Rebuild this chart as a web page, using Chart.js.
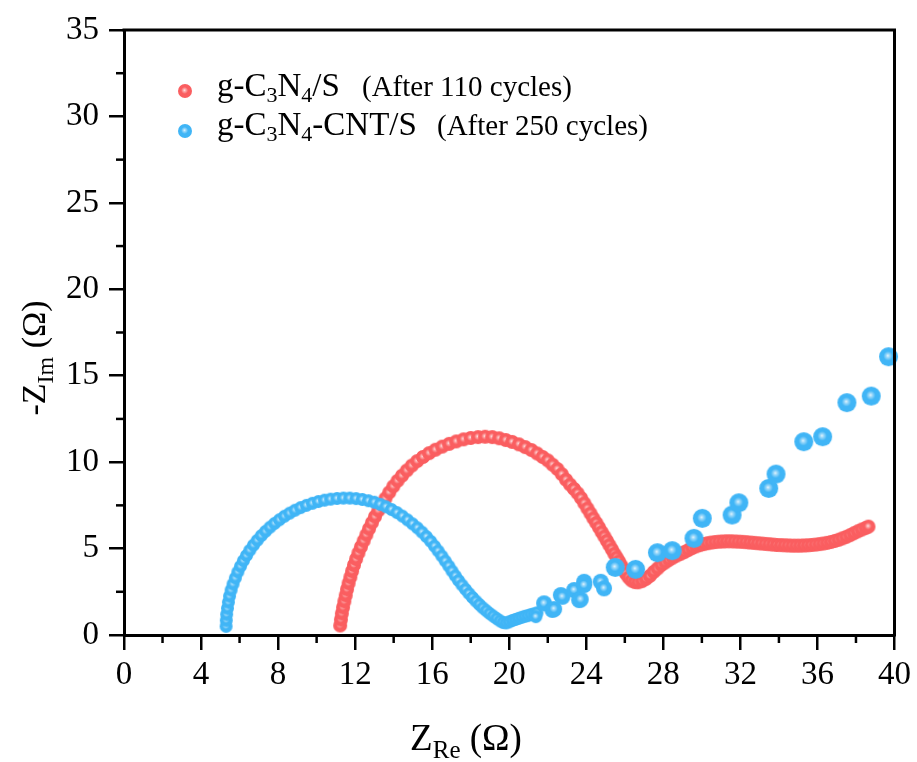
<!DOCTYPE html>
<html><head><meta charset="utf-8">
<script src="https://cdn.jsdelivr.net/npm/chart.js@4.4.1/dist/chart.umd.min.js"></script>
<style>html,body{margin:0;padding:0;background:#fff}#wrap{width:917px;height:762px}</style>
</head><body><div id="wrap"><canvas id="c" width="917" height="762"></canvas></div>
<script>
// ---- data ----
const redX = [11.22,11.26,11.31,11.37,11.44,11.51,11.58,11.66,11.75,11.84,11.94,12.05,12.17,12.3,12.44,12.58,12.72,12.87,13.03,13.2,13.38,13.57,13.77,13.98,14.2,14.43,14.68,14.94,15.22,15.52,15.84,16.17,16.52,16.88,17.25,17.63,18.0,18.38,18.75,19.12,19.48,19.82,20.15,20.5,20.83,21.15,21.45,21.73,22.0,22.25,22.5,22.73,22.95,23.16,23.36,23.55,23.73,23.9,24.06,24.22,24.37,24.52,24.66,24.8,24.94,25.07,25.2,25.33,25.46,25.58,25.7,25.82,25.94,26.06,26.2,26.35,26.52,26.7,26.9,27.1,27.3,27.5,27.7,27.9,28.1,28.3,28.5,28.7,28.9,29.1,29.3,29.5,29.7,29.9,30.1,30.3,30.5,30.7,30.9,31.1,31.3,31.5,31.7,31.9,32.1,32.3,32.5,32.7,32.9,33.1,33.3,33.5,33.7,33.9,34.1,34.3,34.5,34.7,34.9,35.1,35.3,35.5,35.7,35.9,36.1,36.3,36.5,36.7,36.9,37.1,37.3,37.5,37.7,37.9,38.1,38.3,38.5,38.65];
const redY = [0.55,0.9,1.25,1.6,1.95,2.3,2.65,3.0,3.35,3.7,4.05,4.4,4.75,5.1,5.45,5.8,6.15,6.5,6.85,7.2,7.55,7.9,8.25,8.6,8.92,9.22,9.52,9.8,10.06,10.3,10.52,10.72,10.9,11.06,11.2,11.32,11.4,11.45,11.47,11.45,11.38,11.28,11.17,11.03,10.87,10.7,10.5,10.3,10.1,9.85,9.6,9.3,8.98,8.7,8.45,8.2,7.92,7.62,7.32,7.03,6.75,6.48,6.22,5.95,5.7,5.45,5.2,4.95,4.7,4.48,4.26,4.02,3.78,3.55,3.33,3.15,3.06,3.05,3.12,3.25,3.42,3.65,3.85,4.05,4.2,4.35,4.48,4.6,4.7,4.8,4.92,5.03,5.13,5.2,5.26,5.31,5.35,5.38,5.4,5.41,5.42,5.42,5.41,5.4,5.39,5.37,5.35,5.33,5.31,5.29,5.27,5.25,5.23,5.21,5.2,5.19,5.18,5.17,5.17,5.17,5.18,5.19,5.21,5.23,5.26,5.29,5.33,5.38,5.44,5.51,5.59,5.68,5.78,5.89,6.0,6.1,6.19,6.27];
const blueX = [5.3,5.31,5.33,5.37,5.42,5.48,5.56,5.66,5.78,5.91,6.05,6.2,6.36,6.53,6.72,6.92,7.13,7.35,7.58,7.82,8.07,8.33,8.6,8.88,9.17,9.47,9.78,10.09,10.41,10.73,11.06,11.39,11.72,12.05,12.37,12.69,13.0,13.3,13.6,13.89,14.17,14.45,14.72,14.98,15.23,15.47,15.7,15.92,16.12,16.31,16.5,16.68,16.86,17.03,17.2,17.37,17.55,17.73,17.91,18.09,18.27,18.45,18.63,18.81,18.99,19.17,19.35,19.52,19.68,19.84,20.0,20.16,20.32,20.48,20.64,20.8,20.96,21.12,21.28,21.44,21.38,21.81,22.24,22.33,22.68,22.76,23.37,23.63,23.71,23.89,23.89,24.75,24.92,25.5,26.56,27.69,28.46,29.59,30.02,31.57,31.92,33.47,33.85,35.29,36.27,37.53,38.79,39.69];
const blueY = [0.5,0.85,1.2,1.55,1.9,2.25,2.6,2.95,3.3,3.65,3.98,4.3,4.6,4.9,5.2,5.48,5.75,6.0,6.24,6.46,6.67,6.87,7.05,7.22,7.37,7.5,7.62,7.72,7.8,7.86,7.9,7.92,7.92,7.89,7.84,7.77,7.68,7.56,7.42,7.26,7.08,6.88,6.66,6.43,6.2,5.95,5.69,5.42,5.14,4.86,4.57,4.28,3.99,3.7,3.42,3.15,2.89,2.64,2.4,2.17,1.96,1.76,1.57,1.4,1.24,1.09,0.95,0.82,0.72,0.7,0.76,0.84,0.9,0.96,1.02,1.08,1.12,1.18,1.22,1.28,1.06,1.83,1.45,1.5,2.31,2.21,2.6,2.02,2.06,3.08,2.89,3.08,2.7,3.91,3.8,4.76,4.88,5.59,6.75,6.94,7.65,8.48,9.31,11.18,11.47,13.44,13.82,16.1];
const xTicks = [0,4,8,12,16,20,24,28,32,36,40];
const yTicks = [0,5,10,15,20,25,30,35];
const seriesLabels = ['g-C₃N₄/S', 'g-C₃N₄-CNT/S'];
const seriesNotes = ['(After 110 cycles)', '(After 250 cycles)'];
const xTitleParts = [['Z',''],['Re','sub'],[' (Ω)','']];
const yTitleParts = [['-Z',''],['Im','sub'],[' (Ω)','']];

// ---- styling ----
const FONT = "'Liberation Serif','Times New Roman',serif";
const RED = [250,94,96], BLUE = [64,181,246];
const sphereCache = {};
function sphere(rgb, r) {
  const key = rgb.join(',') + '|' + r;
  if (sphereCache[key]) return sphereCache[key];
  const s = Math.ceil(r * 2 + 2);
  const c = document.createElement('canvas'); c.width = s; c.height = s;
  const g = c.getContext('2d'); const cx = s / 2, cy = s / 2;
  g.beginPath(); g.arc(cx, cy, r, 0, Math.PI * 2);
  g.fillStyle = `rgb(${rgb.join(',')})`; g.fill();
  const gr = g.createRadialGradient(cx - r * 0.08, cy - r * 0.12, 0, cx - r * 0.05, cy - r * 0.08, r * 0.5);
  gr.addColorStop(0, 'rgba(255,255,255,0.88)');
  gr.addColorStop(0.35, 'rgba(255,255,255,0.5)');
  gr.addColorStop(1, 'rgba(255,255,255,0)');
  g.fillStyle = gr; g.beginPath(); g.arc(cx, cy, r, 0, Math.PI * 2); g.fill();
  sphereCache[key] = c; return c;
}
const redR = () => 7;
const blueR = (ctx) => { const x = ctx.raw ? ctx.raw.x : 0; return x < 21.5 ? 6.5 : (x < 25 ? 8 : 9.5); };

const SUBMAP = {'₀':'0','₁':'1','₂':'2','₃':'3','₄':'4','₅':'5','₆':'6','₇':'7','₈':'8','₉':'9'};
function splitSubs(str) {
  const parts = []; let cur = '', curSub = false;
  for (const ch of str) {
    const isSub = ch in SUBMAP; const t = isSub ? SUBMAP[ch] : ch;
    if (isSub !== curSub && cur) { parts.push([cur, curSub ? 'sub' : '']); cur = ''; }
    curSub = isSub; cur += t;
  }
  if (cur) parts.push([cur, curSub ? 'sub' : '']);
  return parts;
}
function richWidth(ctx, parts, mainF, subF) {
  let w = 0;
  for (const [t, k] of parts) { ctx.font = (k === 'sub' ? subF : mainF) + 'px ' + FONT; w += ctx.measureText(t).width; }
  return w;
}
function drawRich(ctx, parts, x, y, mainF, subF, subDy) {
  ctx.textBaseline = 'alphabetic'; ctx.textAlign = 'left'; ctx.fillStyle = '#000';
  for (const [t, k] of parts) {
    ctx.font = (k === 'sub' ? subF : mainF) + 'px ' + FONT;
    ctx.fillText(t, x, y + (k === 'sub' ? subDy : 0));
    x += ctx.measureText(t).width;
  }
  return x;
}

const decor = {
  id: 'decor',
  afterDraw(chart) {
    const ctx = chart.ctx, a = chart.chartArea, xs = chart.scales.x, ys = chart.scales.y;
    ctx.save();
    ctx.strokeStyle = '#000';
    ctx.lineWidth = 3;
    ctx.beginPath(); ctx.moveTo(a.left - 1.5, a.top); ctx.lineTo(a.right, a.top); ctx.lineTo(a.right, a.bottom + 1.5); ctx.stroke();
    ctx.lineWidth = 2.5;
    for (let i = 0; i < xTicks.length - 1; i++) {
      const px = xs.getPixelForValue((xTicks[i] + xTicks[i + 1]) / 2);
      ctx.beginPath(); ctx.moveTo(px, a.bottom); ctx.lineTo(px, a.bottom + 8); ctx.stroke();
    }
    for (let i = 0; i < yTicks.length - 1; i++) {
      const py = ys.getPixelForValue((yTicks[i] + yTicks[i + 1]) / 2);
      ctx.beginPath(); ctx.moveTo(a.left, py); ctx.lineTo(a.left - 8, py); ctx.stroke();
    }
    const xp = xTitleParts, w = richWidth(ctx, xp, 37, 25);
    drawRich(ctx, xp, 466 - w / 2, 750, 37, 25, 8);
    ctx.save();
    ctx.translate(45, 358); ctx.rotate(-Math.PI / 2);
    const wy = richWidth(ctx, yTitleParts, 34, 24);
    drawRich(ctx, yTitleParts, -wy / 2, 0, 34, 24, 8);
    ctx.restore();
    const rows = [{y: 96, dot: 91, rgb: RED, noteX: 362}, {y: 135, dot: 131, rgb: BLUE, noteX: 437}];
    rows.forEach((r, i) => {
      const img = sphere(r.rgb, 7);
      ctx.drawImage(img, 185 - img.width / 2, r.dot - img.height / 2);
      drawRich(ctx, splitSubs(seriesLabels[i]), 217, r.y, 33, 22, 6);
      drawRich(ctx, [[seriesNotes[i], '']], r.noteX, r.y, 29, 29, 0);
    });
    ctx.restore();
  }
};

const axisCommon = {
  type: 'linear',
  grid: { display: true, drawOnChartArea: false, drawTicks: true, tickLength: 15, color: '#000', lineWidth: 2.5 },
  border: { display: true, color: '#000', width: 3 },
  ticks: { color: '#000', font: { family: FONT, size: 33 }, autoSkip: false, maxRotation: 0 }
};

new Chart(document.getElementById('c'), {
  type: 'scatter',
  data: {
    datasets: [
      { label: seriesLabels[0] + ' ' + seriesNotes[0], order: 1, clip: false,
        data: redX.map((x, i) => ({x, y: redY[i]})),
        pointRadius: redR, pointStyle: (ctx) => sphere(RED, redR(ctx)), backgroundColor: 'rgb(250,94,96)' },
      { label: seriesLabels[1] + ' ' + seriesNotes[1], order: 0, clip: false,
        data: blueX.map((x, i) => ({x, y: blueY[i]})),
        pointRadius: blueR, pointStyle: (ctx) => sphere(BLUE, blueR(ctx)), backgroundColor: 'rgb(64,181,246)' }
    ]
  },
  options: {
    responsive: false, animation: false,
    layout: { padding: { top: 30, right: 21, left: 0, bottom: 0 } },
    plugins: { legend: { display: false }, tooltip: { enabled: false } },
    scales: {
      x: Object.assign({}, axisCommon, {
        position: 'bottom', min: 0, max: 40,
        ticks: Object.assign({}, axisCommon.ticks, { padding: 6 }),
        afterBuildTicks: (s) => { s.ticks = xTicks.map(v => ({value: v})); },
        afterFit: (s) => { s.height = 127; }
      }),
      y: Object.assign({}, axisCommon, {
        position: 'left', min: 0, max: 35,
        ticks: Object.assign({}, axisCommon.ticks, { padding: 10 }),
        afterBuildTicks: (s) => { s.ticks = yTicks.map(v => ({value: v})); },
        afterFit: (s) => { s.width = 124; }
      })
    }
  },
  plugins: [decor]
});
</script></body></html>
